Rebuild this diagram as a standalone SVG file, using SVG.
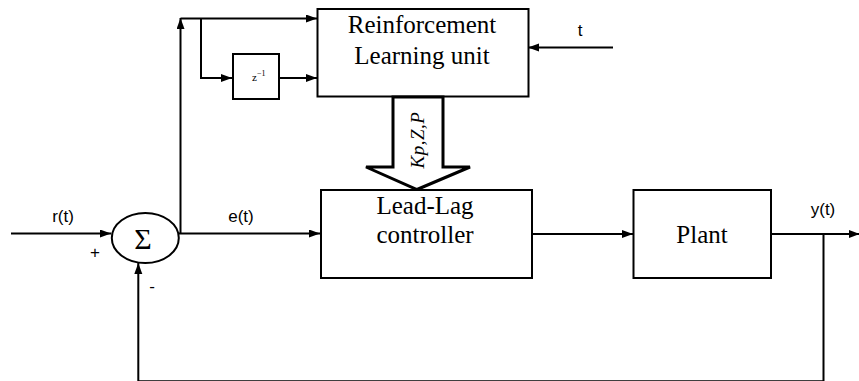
<svg xmlns="http://www.w3.org/2000/svg" width="859" height="381" viewBox="0 0 859 381">
<style>
.box{fill:#fff;stroke:#000;stroke-width:2}
.ln{fill:none;stroke:#000;stroke-width:2}
.serif{font-family:"Liberation Serif","Times New Roman",serif;fill:#000}
.sans{font-family:"Liberation Sans",Arial,sans-serif;fill:#000;font-size:17px}
.lbl{font-size:25px;text-anchor:middle}
</style>
<defs>
<marker id="ah" markerUnits="userSpaceOnUse" markerWidth="12" markerHeight="10" refX="11" refY="4" orient="auto">
<path d="M0,0 L11,4 L0,8 z" fill="#000"/>
</marker>
</defs>
<rect width="859" height="381" fill="#fff"/>
<g id="connectors">
<line class="ln" x1="11" y1="233.5" x2="111" y2="233.5" marker-end="url(#ah)"/>
<line class="ln" x1="179" y1="233.5" x2="320" y2="233.5" marker-end="url(#ah)"/>
<line class="ln" x1="180.5" y1="233.5" x2="180.5" y2="18" marker-end="url(#ah)"/>
<line class="ln" x1="180.5" y1="18.5" x2="317" y2="18.5" marker-end="url(#ah)"/>
<polyline class="ln" points="201,18.5 201,78 232,78" marker-end="url(#ah)"/>
<line class="ln" x1="279" y1="78" x2="317" y2="78" marker-end="url(#ah)"/>
<line class="ln" x1="613" y1="47.5" x2="528" y2="47.5" marker-end="url(#ah)"/>
<line class="ln" x1="532" y1="234" x2="633" y2="234" marker-end="url(#ah)"/>
<line class="ln" x1="771" y1="234" x2="860" y2="234" marker-end="url(#ah)"/>
<polyline class="ln" points="823.5,234 823.5,381.3 138.3,381.3 138.3,263" marker-end="url(#ah)"/>
</g>
<g id="sum">
<ellipse cx="145.3" cy="238" rx="33.5" ry="25" class="box"/>
<text x="143" y="249" class="serif" font-size="30" text-anchor="middle">Σ</text>
</g>
<g id="rl-unit">
<rect x="317.5" y="9" width="211" height="87.5" class="box"/>
<text x="422" y="32.5" class="serif lbl">Reinforcement</text>
<text x="422" y="63.5" class="serif lbl">Learning unit</text>
</g>
<g id="delay">
<rect x="233" y="54" width="46" height="45" class="box"/>
<text x="252" y="81" class="serif" font-size="11">z<tspan font-size="8" dy="-5">−1</tspan></text>
</g>
<g id="param-arrow">
<polygon points="393,97 443,97 443,167 470,167 417,189.5 366,167 393,167" fill="#fff" stroke="#000" stroke-width="3" stroke-linejoin="miter"/>
<text transform="translate(424,140) rotate(-90)" class="serif" font-size="19" font-style="italic" text-anchor="middle" letter-spacing="0.5">Kp,Z,P</text>
</g>
<g id="leadlag">
<rect x="321" y="190" width="211" height="88" class="box"/>
<text x="425" y="214" class="serif lbl">Lead-Lag</text>
<text x="425" y="243" class="serif lbl">controller</text>
</g>
<g id="plant">
<rect x="633.5" y="190" width="137.5" height="88" class="box"/>
<text x="702" y="243" class="serif lbl">Plant</text>
</g>
<g id="labels">
<text x="63" y="222" class="sans" text-anchor="middle">r(t)</text>
<text x="241" y="222" class="sans" text-anchor="middle">e(t)</text>
<text x="823" y="215" class="sans" text-anchor="middle">y(t)</text>
<text x="580" y="36" class="sans" text-anchor="middle">t</text>
<text x="95" y="258" class="sans" text-anchor="middle">+</text>
<text x="152" y="292" class="sans" text-anchor="middle">-</text>
</g>
</svg>
